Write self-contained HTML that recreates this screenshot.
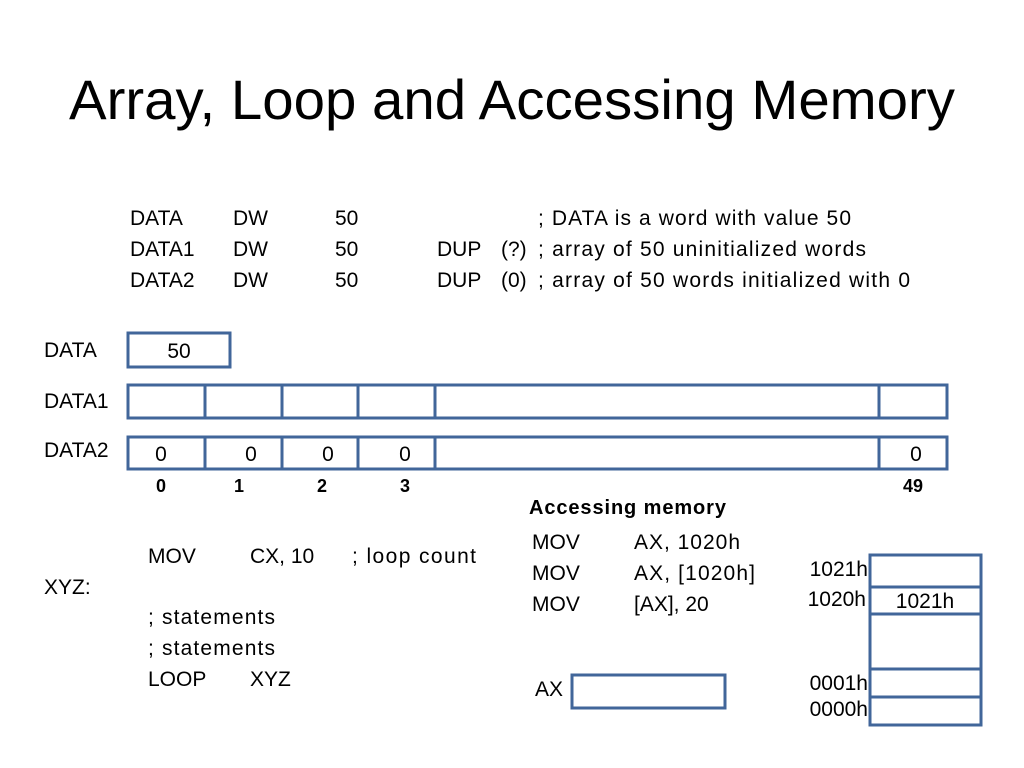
<!DOCTYPE html>
<html><head><meta charset="utf-8"><style>
html,body{margin:0;padding:0;background:#fff}
svg{display:block}
text{font-family:"Liberation Sans",sans-serif;fill:#000}
</style></head><body>
<svg width="1024" height="768" viewBox="0 0 1024 768">
<text x="512" y="119" font-size="56" text-anchor="middle" textLength="886" lengthAdjust="spacingAndGlyphs">Array, Loop and Accessing Memory</text>
<g font-size="21">
<text x="130" y="225">DATA</text><text x="233" y="225">DW</text><text x="335" y="225">50</text><text x="538" y="225" textLength="313">; DATA is a word with value 50</text>
<text x="130" y="256">DATA1</text><text x="233" y="256">DW</text><text x="335" y="256">50</text><text x="437" y="256">DUP</text><text x="501" y="256">(?)</text><text x="538" y="256" textLength="328">; array of 50 uninitialized words</text>
<text x="130" y="287">DATA2</text><text x="233" y="287">DW</text><text x="335" y="287">50</text><text x="437" y="287">DUP</text><text x="501" y="287">(0)</text><text x="538" y="287" textLength="372">; array of 50 words initialized with 0</text>
<text x="44" y="357">DATA</text><text x="44" y="408">DATA1</text><text x="44" y="457">DATA2</text>
</g>
<g fill="none" stroke="#41669a" stroke-width="3">
<rect x="128" y="333" width="102" height="34"/>
<rect x="128" y="385" width="819" height="33"/>
<rect x="128" y="437" width="819" height="32"/>
<path d="M205 385V418M282 385V418M358 385V418M435 385V418M879 385V418M205 437V469M282 437V469M358 437V469M435 437V469M879 437V469"/>
<rect x="572" y="675" width="153" height="33"/>
<rect x="870" y="555" width="111" height="170"/>
<path d="M870 587H981M870 614H981M870 669H981M870 697H981"/>
</g>
<g font-size="21">
<text x="179" y="358" text-anchor="middle">50</text>
<text x="161" y="461" text-anchor="middle">0</text><text x="251" y="461" text-anchor="middle">0</text><text x="328" y="461" text-anchor="middle">0</text><text x="405" y="461" text-anchor="middle">0</text><text x="916" y="461" text-anchor="middle">0</text>
</g>
<g font-size="18" font-weight="bold" text-anchor="middle">
<text x="161" y="492">0</text><text x="239" y="492">1</text><text x="322" y="492">2</text><text x="405" y="492">3</text><text x="913" y="492">49</text>
</g>
<text x="529" y="514" font-size="20" font-weight="bold" textLength="197">Accessing memory</text>
<g font-size="21">
<text x="148" y="563">MOV</text><text x="250" y="563">CX, 10</text><text x="352" y="563" textLength="124">; loop count</text>
<text x="44" y="594">XYZ:</text>
<text x="148" y="624" textLength="127">; statements</text>
<text x="148" y="655" textLength="127">; statements</text>
<text x="148" y="686">LOOP</text><text x="250" y="686">XYZ</text>
<text x="532" y="549">MOV</text><text x="634" y="549" textLength="106">AX, 1020h</text>
<text x="532" y="580">MOV</text><text x="634" y="580" textLength="121">AX, [1020h]</text>
<text x="532" y="611">MOV</text><text x="634" y="611">[AX], 20</text>
<text x="535" y="696">AX</text>
<text x="868" y="576" text-anchor="end">1021h</text>
<text x="866" y="606" text-anchor="end">1020h</text>
<text x="925" y="608" text-anchor="middle">1021h</text>
<text x="868" y="690" text-anchor="end">0001h</text>
<text x="868" y="716" text-anchor="end">0000h</text>
</g>
</svg>
</body></html>
